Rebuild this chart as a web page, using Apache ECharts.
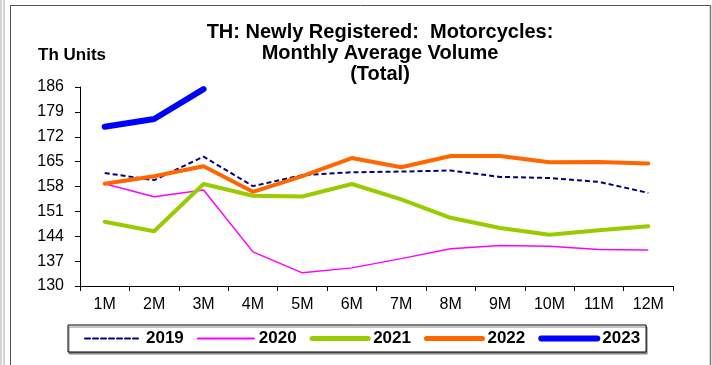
<!DOCTYPE html>
<html>
<head>
<meta charset="utf-8">
<script src="https://cdn.jsdelivr.net/npm/echarts@6/dist/echarts.min.js"></script>
<style>
  html, body { margin: 0; padding: 0; background: #fff; }
  #chart { width: 712px; height: 365px; }
</style>
</head>
<body>
<div id="chart"></div>
<script>
// Months of the year
const months = ['1M', '2M', '3M', '4M', '5M', '6M', '7M', '8M', '9M', '10M', '11M', '12M'];

// Monthly average volume, thousand units
const y2019 = [161.8, 159.8, 166.4, 158.1, 161.2, 162.0, 162.2, 162.5, 160.7, 160.4, 159.3, 156.2];
const y2020 = [158.8, 155.1, 157.0, 139.6, 133.7, 135.1, 137.7, 140.5, 141.4, 141.2, 140.3, 140.1];
const y2021 = [148.1, 145.4, 158.7, 155.4, 155.2, 158.7, 154.4, 149.2, 146.3, 144.4, 145.7, 146.8];
const y2022 = [158.8, 160.9, 163.7, 156.5, 160.9, 166.0, 163.4, 166.6, 166.6, 164.8, 164.9, 164.5];
const y2023 = [174.8, 177.0, 185.4];

const FONT = '"Liberation Sans", Arial, sans-serif';

// legend swatch: line only, no marker
function legendItem(name, width) {
  return {
    name: name,
    lineStyle: { width: width, cap: 'round' },
    itemStyle: { color: 'rgba(0,0,0,0)', borderColor: 'rgba(0,0,0,0)', borderWidth: 0, opacity: 0 }
  };
}

const chart = echarts.init(document.getElementById('chart'), null, { renderer: 'canvas' });

chart.setOption({
  animation: false,
  backgroundColor: '#ffffff',
  textStyle: { fontFamily: FONT },
  title: {
    text: 'TH: Newly Registered:  Motorcycles:\nMonthly Average Volume\n(Total)',
    left: 375,
    textAlign: 'center',
    top: 17,
    textStyle: { fontFamily: FONT, fontSize: 20, fontWeight: 'bold', color: '#000', lineHeight: 21 }
  },
  graphic: [
    // outer frame
    { type: 'line', shape: { x1: 10.5, y1: 5, x2: 10.5, y2: 365 }, style: { stroke: '#555', lineWidth: 1 } },
    { type: 'line', shape: { x1: 10, y1: 5.5, x2: 711, y2: 5.5 }, style: { stroke: '#555', lineWidth: 1 } },
    { type: 'line', shape: { x1: 710.5, y1: 5, x2: 710.5, y2: 365 }, style: { stroke: '#777', lineWidth: 1.5 } },
    { type: 'line', shape: { x1: 1, y1: 0, x2: 1, y2: 365 }, style: { stroke: '#aaa', lineWidth: 1 } },
    { type: 'line', shape: { x1: 4, y1: 0, x2: 4, y2: 365 }, style: { stroke: '#aaa', lineWidth: 1 } },
    {
      type: 'text', left: 38, top: 47,
      style: { text: 'Th Units', fontFamily: FONT, fontSize: 17, fontWeight: 'bold', fill: '#000' }
    }
  ],
  legend: {
    left: 68,
    top: 325,
    itemWidth: 56,
    itemHeight: 14,
    itemGap: 13,
    padding: [5, 6, 5, 16],
    borderColor: '#000',
    borderWidth: 1,
    backgroundColor: '#fff',
    shadowColor: '#888',
    shadowOffsetX: 1,
    shadowOffsetY: 2,
    shadowBlur: 0,
    textStyle: { fontFamily: FONT, fontSize: 17, fontWeight: 'bold', color: '#000' },
    data: [
      legendItem('2019', 2),
      legendItem('2020', 2),
      legendItem('2021', 5),
      legendItem('2022', 5),
      legendItem('2023', 6)
    ]
  },
  grid: { left: 80, right: 39, top: 87, bottom: 79, containLabel: false },
  xAxis: {
    type: 'category',
    data: months,
    boundaryGap: true,
    axisLine: { lineStyle: { color: '#000', width: 1 } },
    axisTick: { show: true, length: 5, lineStyle: { color: '#000' } },
    axisLabel: { color: '#000', fontSize: 16, fontFamily: FONT, margin: 11 },
    splitLine: { show: false }
  },
  yAxis: {
    type: 'value',
    min: 130,
    max: 186,
    interval: 7,
    axisLine: { show: true, lineStyle: { color: '#000', width: 1 } },
    axisTick: { show: true, length: 5, lineStyle: { color: '#000' } },
    axisLabel: { color: '#000', fontSize: 16, fontFamily: FONT, margin: 16 },
    splitLine: { show: false }
  },
  series: [
    {
      name: '2019', type: 'line', data: y2019, symbol: 'none',
      lineStyle: { color: '#000080', width: 2, type: [5, 3] },
      itemStyle: { color: '#000080' }
    },
    {
      name: '2020', type: 'line', data: y2020, symbol: 'none',
      lineStyle: { color: '#FF00FF', width: 1.5 },
      itemStyle: { color: '#FF00FF' }
    },
    {
      name: '2021', type: 'line', data: y2021, symbol: 'none',
      lineStyle: { color: '#99CC00', width: 4, cap: 'round' },
      itemStyle: { color: '#99CC00' }
    },
    {
      name: '2022', type: 'line', data: y2022, symbol: 'none',
      lineStyle: { color: '#FF6600', width: 4, cap: 'round' },
      itemStyle: { color: '#FF6600' }
    },
    {
      name: '2023', type: 'line', data: y2023, symbol: 'none',
      lineStyle: { color: '#0000FF', width: 6, cap: 'round' },
      itemStyle: { color: '#0000FF' }
    }
  ]
});
</script>
</body>
</html>
